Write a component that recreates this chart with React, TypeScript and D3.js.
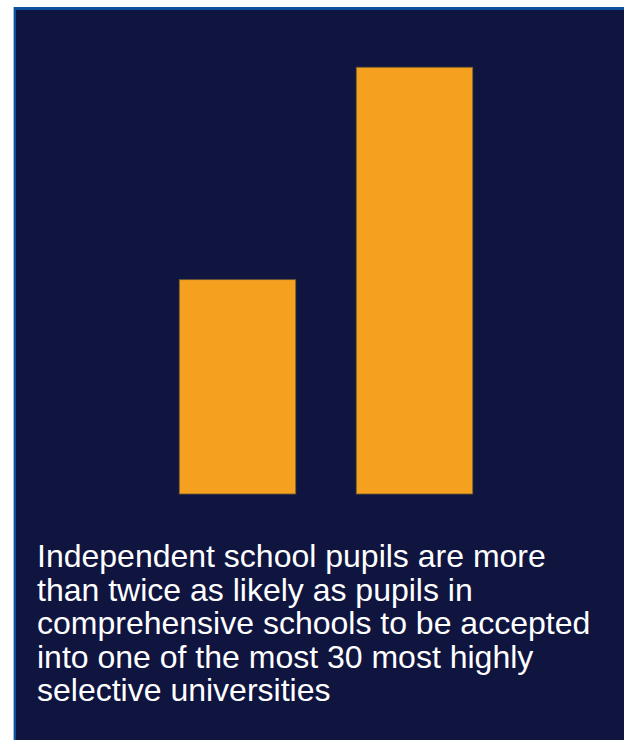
import React from "react";
import * as d3 from "d3";

// Share of pupils accepted to the 30 most highly selective universities (%)
const categories = ["Comprehensive schools", "Independent schools"];
const acceptance = [11.4, 22.7];

const captionLines = [
  "Independent school pupils are more",
  "than twice as likely as pupils in",
  "comprehensive schools to be accepted",
  "into one of the most 30 most highly",
  "selective universities",
];

const W = 624;
const H = 740;

export default function App() {
  const x = d3
    .scaleBand<string>()
    .domain(categories)
    .range([149, 503])
    .paddingInner(0.342)
    .paddingOuter(0.171);
  const y = d3.scaleLinear().domain([0, 24]).range([494, 42.8]);

  return (
    <svg
      width={W}
      height={H}
      style={{ position: "absolute", left: 0, top: 0, display: "block" }}
    >
      <rect x={0} y={0} width={W} height={H} fill="#ffffff" />
      {/* panel frame */}
      <rect x={13} y={7} width={W - 13} height={H - 7} fill="#a9bcd6" />
      <rect x={14} y={7} width={W - 14} height={H - 7} fill="#0d4f9b" />
      <rect x={16} y={10} width={W - 16} height={H - 10} fill="#10153f" />
      {categories.map((c, i) => (
        <rect
          key={c}
          x={x(c)!}
          y={y(acceptance[i])}
          width={x.bandwidth()}
          height={y(0) - y(acceptance[i])}
          fill="#f5a11f"
          stroke="#6e5a35"
          strokeWidth={0.8}
        />
      ))}
      <text
        x={37}
        y={567}
        fill="#ffffff"
        fontFamily="'Liberation Sans', Arial, sans-serif"
        fontSize={32}
      >
        {captionLines.map((l, i) => (
          <tspan key={i} x={37} y={567 + i * 33.6}>
            {l}
          </tspan>
        ))}
      </text>
    </svg>
  );
}
